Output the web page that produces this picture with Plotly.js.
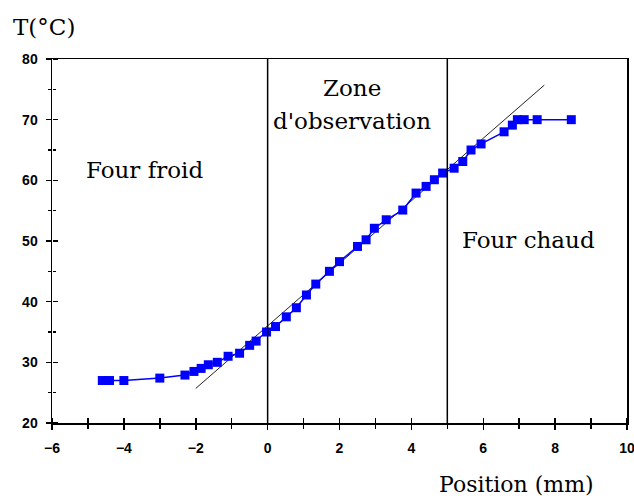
<!DOCTYPE html>
<html>
<head>
<meta charset="utf-8">
<script src="https://cdn.plot.ly/plotly-3.0.1.min.js"></script>
<style>html,body{margin:0;padding:0;background:#fff;}#chart{width:634px;height:499px;}</style>
</head>
<body>
<div id="chart"></div>
<script>
var positionMm = [-4.6, -4.4, -4.0, -3.0, -2.3, -2.05, -1.85, -1.65, -1.4, -1.1, -0.78, -0.5, -0.32, -0.03, 0.22, 0.52, 0.8, 1.08, 1.34, 1.72, 2.0, 2.5, 2.74, 2.97, 3.3, 3.76, 4.13, 4.41, 4.64, 4.87, 5.19, 5.43, 5.66, 5.94, 6.58, 6.81, 6.95, 7.14, 7.5, 8.45];
var temperatureC = [27.0, 27.0, 27.0, 27.4, 27.9, 28.5, 29.0, 29.6, 30.0, 31.0, 31.5, 32.8, 33.5, 35.0, 35.9, 37.5, 39.0, 41.1, 42.9, 45.0, 46.6, 49.1, 50.2, 52.1, 53.5, 55.1, 57.9, 59.0, 60.1, 61.2, 62.0, 63.1, 65.0, 66.0, 68.0, 69.1, 70.0, 70.0, 70.0, 70.0];
var fitX = [-2.0, 7.7];
var fitT = [25.7, 75.7];
var zoneBounds = [0, 5];
var zoneLabels = ["Four froid", "Zone", "d'observation", "Four chaud"];
var zoneLabelX = [-3.44, 2.36, 2.36, 7.25];
var zoneLabelY = [61.7, 75.2, 69.8, 50.2];
var xRange = [-6, 10];
var yRange = [20, 80];

var serif = "DejaVu Serif, serif";
var tickFont = {family: "Liberation Sans, Arial, sans-serif", size: 14, color: "#000", weight: "bold"};

var traces = [
  {x: fitX, y: fitT, mode: "lines", line: {color: "#222", width: 1}, hoverinfo: "skip", showlegend: false},
  {x: positionMm, y: temperatureC, mode: "lines+markers", line: {color: "#0000ff", width: 1.5},
   marker: {symbol: "square", size: 9, color: "#0000ff"}, showlegend: false},
  {x: [0], y: [50], xaxis: "x2", yaxis: "y2", mode: "markers", marker: {opacity: 0}, showlegend: false, hoverinfo: "skip"}
];

var shapes = zoneBounds.map(function (b) {
  return {type: "line", xref: "x", yref: "y", x0: b, x1: b, y0: yRange[0], y1: yRange[1],
          line: {color: "#000", width: 1.5}};
});

var annotations = zoneLabels.map(function (t, i) {
  return {text: t, x: zoneLabelX[i], y: zoneLabelY[i], xref: "x", yref: "y", showarrow: false,
          xanchor: "center", yanchor: "middle",
          font: {family: serif, size: 23, color: "#000"}};
});
annotations.push({text: "T(°C)", xref: "paper", yref: "paper", x: -0.014, y: 1.088, showarrow: false,
                  xanchor: "center", yanchor: "middle",
                  font: {family: serif, size: 23, color: "#000"}});
annotations.push({text: "Position (mm)", xref: "paper", yref: "paper", x: 0.807, y: -0.132, showarrow: false,
                  xanchor: "center", yanchor: "top", borderpad: 0,
                  font: {family: serif, size: 22, color: "#000"}});

var layout = {
  width: 634, height: 499,
  margin: {l: 52, r: 7, t: 59, b: 76},
  paper_bgcolor: "#fff", plot_bgcolor: "#fff",
  showlegend: false,
  xaxis: {range: xRange, dtick: 2, tick0: -6, ticks: "outside", ticklen: 5, tickwidth: 1.5, tickcolor: "#000",
          showline: true, linecolor: "#000", linewidth: 1.5, mirror: true, showgrid: false, zeroline: false,
          tickfont: tickFont, ticklabelstandoff: 7, ticklabeloverflow: "allow",
          minor: {dtick: 1, ticks: "outside", ticklen: 4, tickwidth: 1.5, tickcolor: "#000", showgrid: false}},
  yaxis: {range: yRange, dtick: 10, tick0: 20, ticks: "outside", ticklen: 5, tickwidth: 1.5, tickcolor: "#000",
          showline: true, linecolor: "#000", linewidth: 1.5, mirror: true, showgrid: false, zeroline: false,
          tickfont: tickFont, ticklabelstandoff: 5, ticklabeloverflow: "allow",
          minor: {dtick: 5, ticks: "outside", ticklen: 2.5, tickwidth: 1.5, tickcolor: "#000", showgrid: false}},
  xaxis2: {range: xRange, dtick: 2, tick0: -6, overlaying: "x", anchor: "free", position: 0, side: "top",
           ticks: "outside", ticklen: 5, tickwidth: 1.5, tickcolor: "#000", showticklabels: false,
           showline: false, showgrid: false, zeroline: false,
           minor: {dtick: 1, ticks: "outside", ticklen: 5, tickwidth: 1.5, tickcolor: "#000", showgrid: false}},
  yaxis2: {range: yRange, dtick: 10, tick0: 20, overlaying: "y", anchor: "free", position: 0, side: "right",
           ticks: "outside", ticklen: 5, tickwidth: 1.5, tickcolor: "#000", showticklabels: false,
           showline: false, showgrid: false, zeroline: false,
           minor: {dtick: 5, ticks: "outside", ticklen: 2.5, tickwidth: 1.5, tickcolor: "#000", showgrid: false}},
  shapes: shapes,
  annotations: annotations
};

Plotly.newPlot("chart", traces, layout, {displayModeBar: false, staticPlot: true});
</script>
</body>
</html>
